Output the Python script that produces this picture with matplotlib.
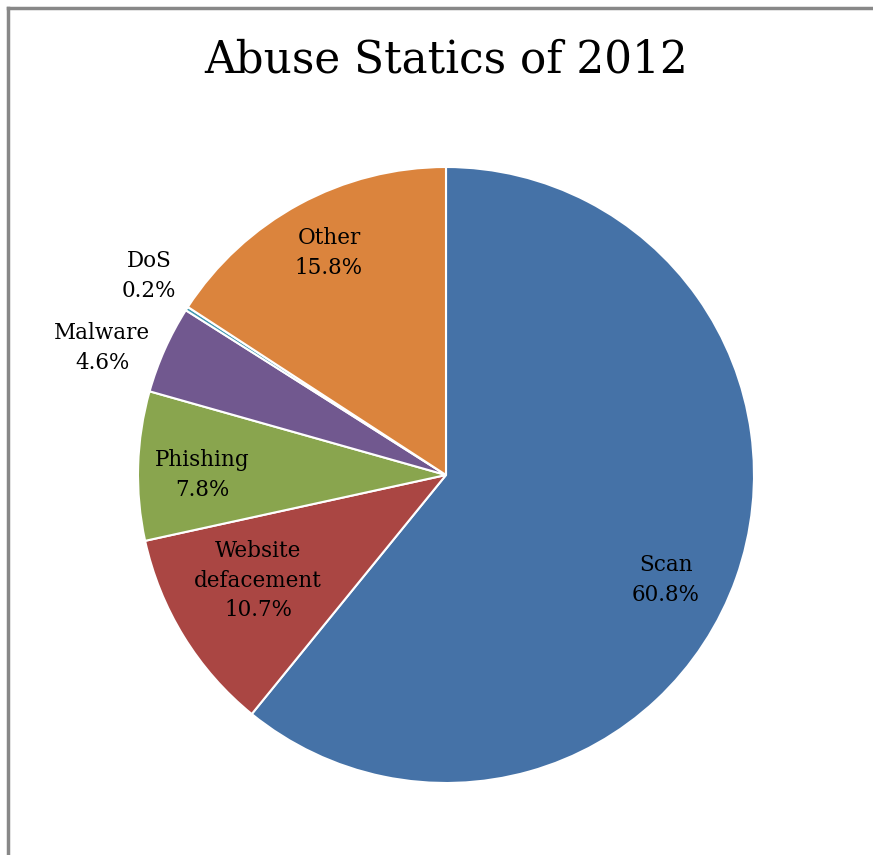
import numpy as np
import matplotlib.pyplot as plt
from matplotlib.lines import Line2D

labels = ['Scan', 'Website\ndefacement', 'Phishing', 'Malware', 'DoS', 'Other']
values = [60.8, 10.7, 7.8, 4.6, 0.2, 15.8]
colors = ['#4572A7', '#AA4643', '#89A54E', '#71588F', '#4198AF', '#DB843D']
# label placement (angle in degrees, radius as fraction of pie radius)
label_angle = [-25.5, 209.3, 180.0, 159.7, 146.2, 117.8]
label_rad = [0.79, 0.70, 0.79, 1.19, 1.16, 0.815]

W, H = 873, 855
fig = plt.figure(figsize=(W / 100, H / 100), dpi=100)
fig.patch.set_facecolor('white')

cx, cy, R = 446, 475, 308
ax = fig.add_axes([(cx - R) / W, (H - cy - R) / H, 2 * R / W, 2 * R / H])
ax.pie(values, colors=colors, startangle=90, counterclock=False,
       wedgeprops=dict(edgecolor='white', linewidth=1.5))
ax.set_xlim(-1, 1)
ax.set_ylim(-1, 1)
ax.axis('off')

for lab, v, a, r in zip(labels, values, label_angle, label_rad):
    t = np.deg2rad(a)
    ax.text(r * np.cos(t), r * np.sin(t), f'{lab}\n{v:.1f}%', ha='center', va='center',
            fontsize=15.5, family='DejaVu Serif', linespacing=1.45, color='black')

fig.text(cx / W, 1 - 60 / H, 'Abuse Statics of 2012', ha='center', va='center',
         fontsize=31.5, family='DejaVu Serif')

# border lines at top and left
fig.add_artist(Line2D([8 / W, 1], [1 - 8 / H, 1 - 8 / H], color='#888888', lw=2.5))
fig.add_artist(Line2D([8 / W, 8 / W], [0, 1 - 8 / H], color='#888888', lw=2.5))

fig.savefig('out.png', dpi=100)
